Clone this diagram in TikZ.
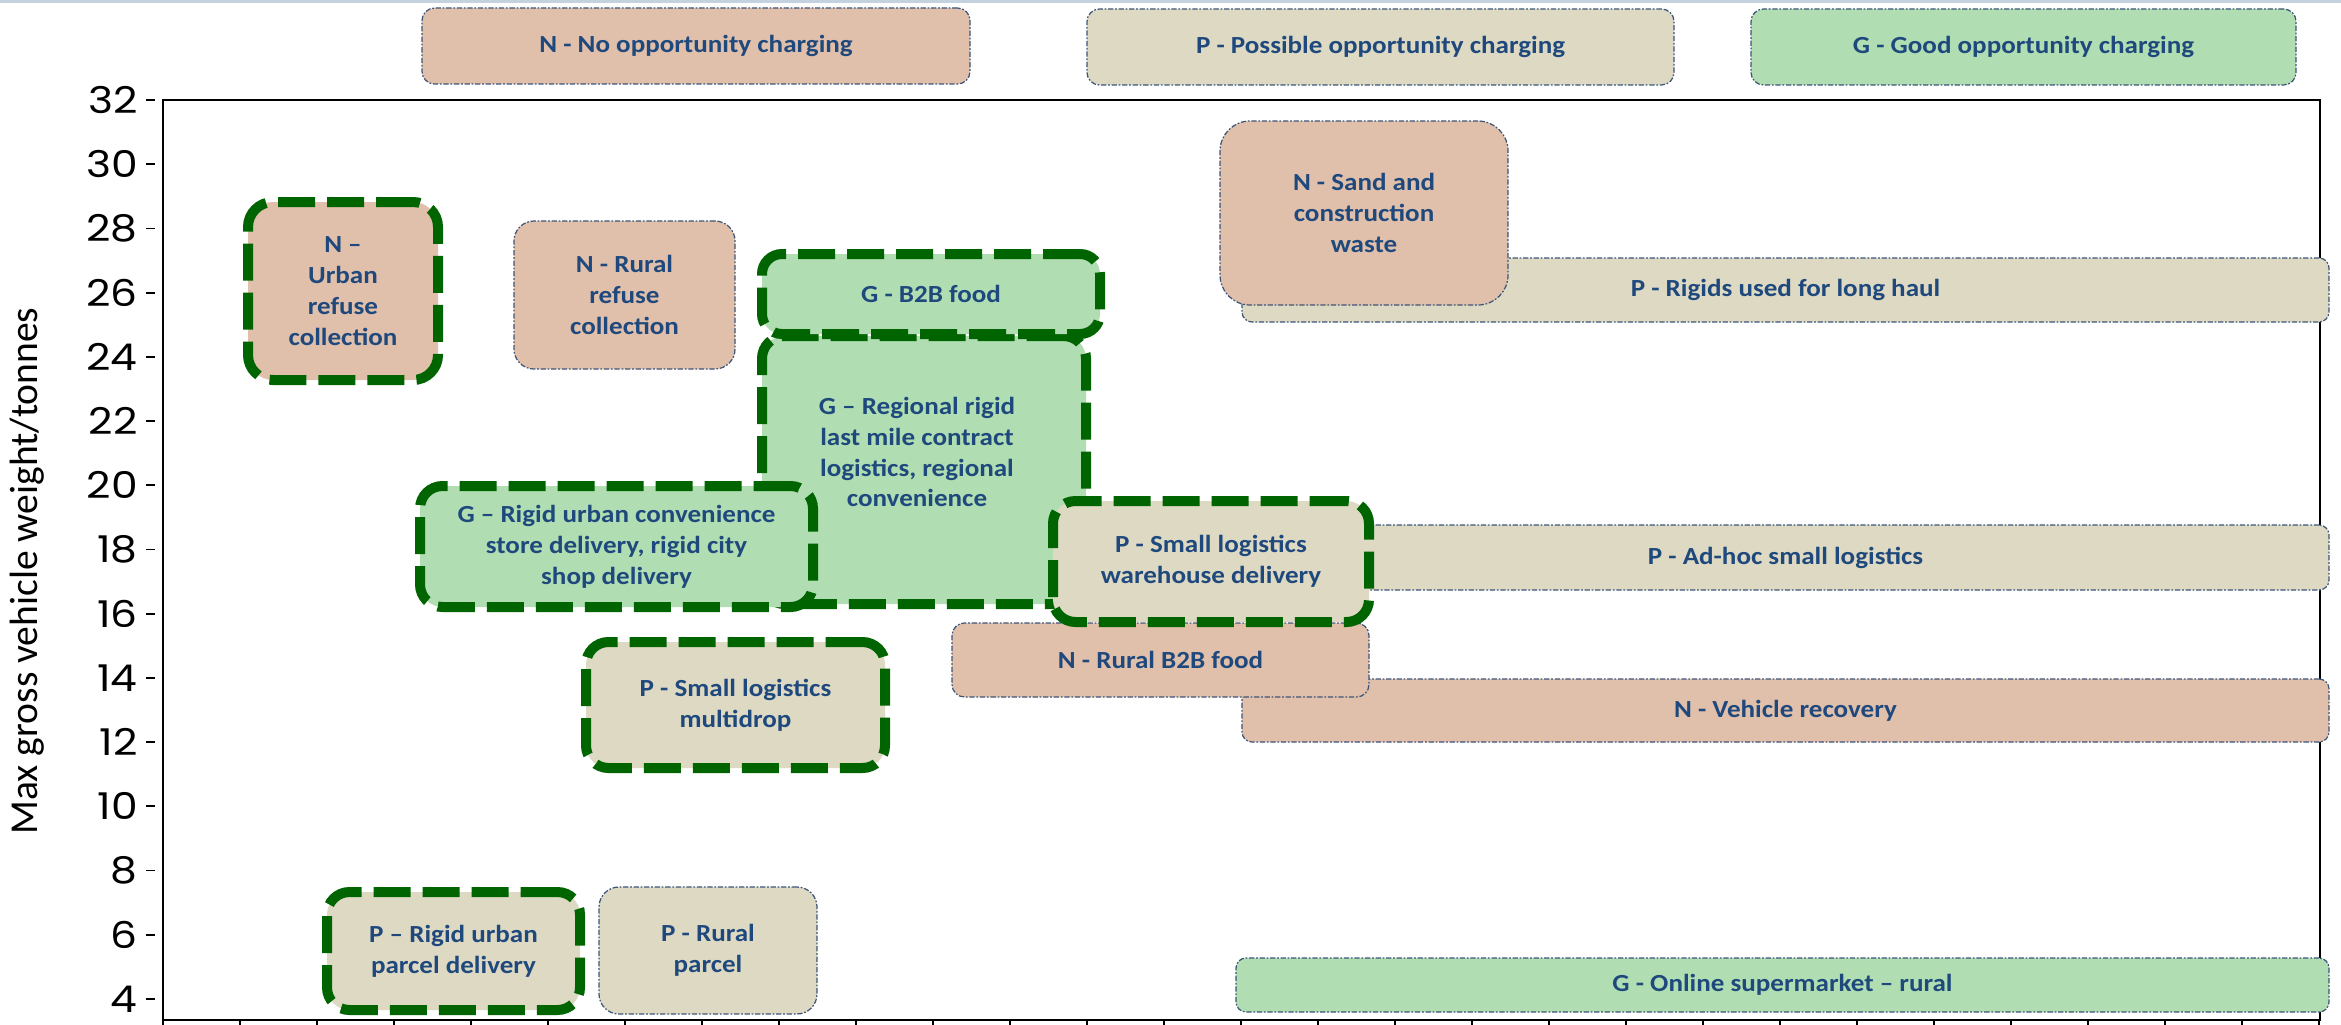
\documentclass[tikz,border=0pt]{standalone}
\usepackage{fontspec}
\setmainfont{Carlito}[FakeStretch=1.1]
\newfontfamily\titlefont{Carlito}
\newfontfamily\tickfont{Poppins}[FakeStretch=1.15]

\definecolor{nofill}{RGB}{224,191,171}
\definecolor{posfill}{RGB}{221,217,195}
\definecolor{goodfill}{RGB}{176,222,178}
\definecolor{labelblue}{RGB}{31,73,125}
\definecolor{edgeblue}{RGB}{60,85,120}
\definecolor{dkgreen}{RGB}{0,100,0}
\definecolor{topline}{RGB}{196,210,224}

\begin{document}
\begin{tikzpicture}[x=0.02cm,y=-0.02cm,
    span/.style n args={4}{at={({(#1+#3)/2},{(#2+#4)/2})},minimum width={(#3-#1)*0.02cm},minimum height={(#4-#2)*0.02cm}},
    box/.style={inner sep=0pt,align=center,text=labelblue,font=\bfseries\fontsize{14}{17.6}\selectfont},
    thin box/.style={box,draw=edgeblue,line width=0.7pt,dash pattern=on 3pt off 1pt on 1pt off 1pt},
    green box/.style={box,draw=dkgreen,line width=0.2cm,dash pattern=on 0.74cm off 0.24cm},
    nbox/.style={fill=nofill},
    pbox/.style={fill=posfill},
    gbox/.style={fill=goodfill},
    tick label/.style={font=\tickfont\fontsize{21}{21}\selectfont,anchor=east,inner sep=0pt}]
    \useasboundingbox (0,0) rectangle (2341,1024);
    \draw[topline,line width=2pt] (0,1) -- (2341,1);

    % legend
    \node[thin box,nbox,rounded corners=0.25cm,span={422}{8}{970}{84}] (legN) {N - No opportunity charging};
    \node[thin box,pbox,rounded corners=0.25cm,span={1087}{9}{1674}{85}] (legP) {P - Possible opportunity charging};
    \node[thin box,gbox,rounded corners=0.25cm,span={1751}{9}{2296}{85}] (legG) {G - Good opportunity charging};

    % axes
    \draw[line width=1.6pt] (163,100) rectangle (2320,1020);
    \foreach \v in {4,6,...,32} {
        \pgfmathsetmacro\yy{100+(32-\v)*32.107}
        \draw[line width=1pt] (146,\yy) -- (155,\yy);
        \node[tick label] (yt\v) at (138,\yy) {\v};
    }
    \foreach \k in {0,...,28}
        \draw[line width=1pt] (163+77*\k,1020) -- (163+77*\k,1034);
    \node[rotate=90,font=\titlefont\fontsize{22.5}{22.5}\selectfont] (ytitle) at (27,571) {Max gross vehicle weight/tonnes};

    % use cases
    \node[thin box,pbox,rounded corners=0.2cm,span={1242}{258}{2329}{322}] (longhaul) {P - Rigids used for long haul};
    \node[thin box,nbox,rounded corners=0.6cm,span={1220}{121}{1508}{305}] (sand) {N - Sand and\\construction\\waste};
    \node[green box,nbox,rounded corners=0.5cm,span={248}{202}{438}{380}] (urbanrefuse) {N --\\Urban\\refuse\\collection};
    \node[thin box,nbox,rounded corners=0.4cm,span={514}{221}{735}{369}] (ruralrefuse) {N - Rural\\refuse\\collection};
    \node[green box,gbox,rounded corners=0.45cm,span={762}{336}{1086}{604}] (regional) {};
    \node[box] (regionaltxt) at (917,452) {G -- Regional rigid\\last mile contract\\logistics, regional\\convenience};
    \node[green box,gbox,rounded corners=0.4cm,span={762}{254}{1100}{334}] (btobfood) {G - B2B food};
    \node[green box,gbox,rounded corners=0.45cm,span={420}{486}{813}{607}] (urbanconv) {G -- Rigid urban convenience\\store delivery, rigid city\\shop delivery};
    \node[thin box,pbox,rounded corners=0.2cm,span={1242}{525}{2329}{590}] (adhoc) {P - Ad-hoc small logistics};
    \node[thin box,nbox,rounded corners=0.2cm,span={1242}{679}{2329}{742}] (recovery) {N - Vehicle recovery};
    \node[thin box,nbox,rounded corners=0.25cm,span={952}{623}{1369}{697}] (ruralbtob) {N - Rural B2B food};
    \node[green box,pbox,rounded corners=0.45cm,span={1053}{501}{1369}{622}] (warehouse) {P - Small logistics\\warehouse delivery};
    \node[green box,pbox,rounded corners=0.45cm,span={586}{642}{885}{768}] (multidrop) {P - Small logistics\\multidrop};
    \node[green box,pbox,rounded corners=0.45cm,span={327}{892}{580}{1010}] (urbanparcel) {P -- Rigid urban\\parcel delivery};
    \node[thin box,pbox,rounded corners=0.4cm,span={599}{887}{817}{1014}] (ruralparcel) {P - Rural\\parcel};
    \node[thin box,gbox,rounded corners=0.2cm,span={1236}{958}{2329}{1012}] (online) {G - Online supermarket -- rural};
\end{tikzpicture}
\end{document}
